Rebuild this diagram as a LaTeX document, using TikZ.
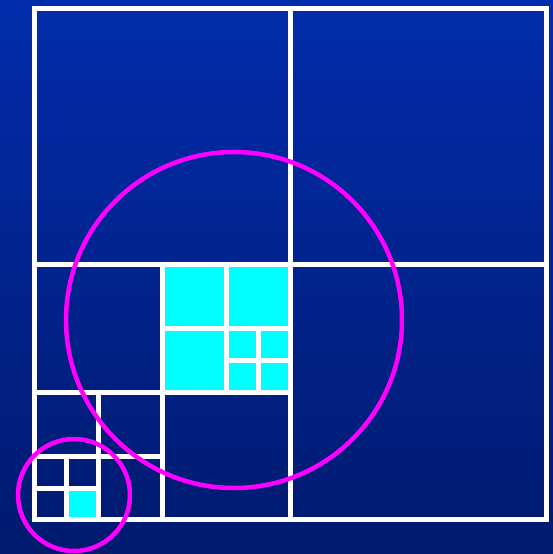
\documentclass[tikz,border=0pt]{standalone}
\begin{document}
\begin{tikzpicture}[x=1pt,y=-1pt,
  grid/.style={draw=white,line width=5pt},
  ring/.style={draw={rgb,255:red,255;green,0;blue,255},line width=4.5pt},
  cell/.style={fill={rgb,255:red,0;green,255;blue,255}}]
\shade[top color={rgb,255:red,2;green,44;blue,172},bottom color={rgb,255:red,0;green,26;blue,110}] (0,0) rectangle (553,554);
\useasboundingbox (0,0) rectangle (553,554);
% cyan cells
\fill[cell] (162,264) rectangle (290,392);
\fill[cell] (66,488) rectangle (98,519);
% level 0 / 1
\draw[grid] (34,8) rectangle (546,519);
\draw[grid] (290,8) -- (290,519);
\draw[grid] (34,264) -- (546,264);
% level 2 in lower-left quadrant
\draw[grid] (162,264) -- (162,519);
\draw[grid] (34,392) -- (290,392);
% cyan quadrant subdivisions
\draw[grid] (226,264) -- (226,392);
\draw[grid] (162,328) -- (290,328);
\draw[grid] (258,328) -- (258,392);
\draw[grid] (226,360) -- (290,360);
% lower-left subdivisions
\draw[grid] (98,392) -- (98,519);
\draw[grid] (34,456) -- (162,456);
\draw[grid] (66,456) -- (66,519);
\draw[grid] (34,488) -- (98,488);
% circles
\draw[ring] (234,320) circle (168);
\draw[ring] (74,495) circle (56);
\end{tikzpicture}
\end{document}
